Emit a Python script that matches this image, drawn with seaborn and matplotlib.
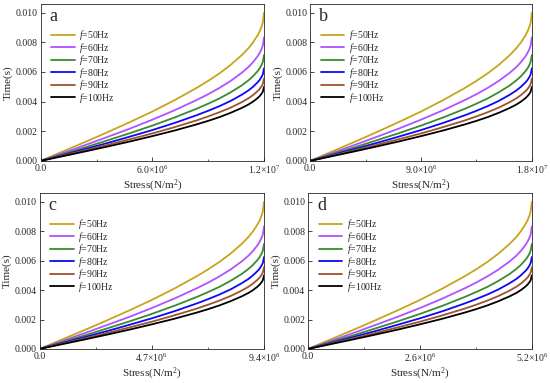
import pandas as pd
import matplotlib
matplotlib.use("Agg")
import matplotlib.pyplot as plt
import seaborn as sns
from matplotlib.ticker import AutoMinorLocator

sns.set_style("ticks")
plt.rcParams['font.family'] = ['Liberation Serif', 'DejaVu Serif']
plt.rcParams['mathtext.fontset'] = 'custom'
plt.rcParams['mathtext.rm'] = 'Liberation Serif'
plt.rcParams['mathtext.it'] = 'Liberation Serif:italic'

# stress as fraction of the panel's max stress
frac = [0, 0.1, 0.2, 0.3, 0.4, 0.5, 0.6, 0.7, 0.75, 0.8, 0.85, 0.9, 0.93, 0.95,
        0.97, 0.98, 0.99, 0.995, 1.0]

# time in ms
t50 = [0, 0.64, 1.28, 1.94, 2.62, 3.33, 4.10, 4.94, 5.40, 5.90, 6.47, 7.13, 7.60, 7.98, 8.44, 8.72, 9.10, 9.36, 10.0]
t60 = [0, 0.53, 1.07, 1.62, 2.18, 2.78, 3.42, 4.12, 4.50, 4.92, 5.39, 5.94, 6.33, 6.65, 7.03, 7.27, 7.58, 7.80, 8.33]
t70 = [0, 0.46, 0.91, 1.39, 1.87, 2.38, 2.93, 3.53, 3.86, 4.21, 4.62, 5.09, 5.43, 5.70, 6.03, 6.23, 6.50, 6.69, 7.14]
t80 = [0, 0.40, 0.80, 1.21, 1.64, 2.08, 2.56, 3.09, 3.38, 3.69, 4.04, 4.46, 4.75, 4.99, 5.28, 5.45, 5.69, 5.85, 6.25]
t90 = [0, 0.36, 0.71, 1.08, 1.46, 1.85, 2.28, 2.74, 3.00, 3.28, 3.59, 3.96, 4.22, 4.43, 4.69, 4.84, 5.06, 5.20, 5.56]
t100 = [0, 0.32, 0.64, 0.97, 1.31, 1.67, 2.05, 2.47, 2.70, 2.95, 3.24, 3.57, 3.80, 3.99, 4.22, 4.36, 4.55, 4.68, 5.00]

series = [t50, t60, t70, t80, t90, t100]
freqs = ["50", "60", "70", "80", "90", "100"]
colors = ["#C8A41C", "#B052FF", "#3A8A2E", "#0A0AF5", "#A0522D", "#000000"]

panels = ["a", "b", "c", "d"]
smax = [1.2e7, 1.8e7, 9.4e6, 5.2e6]
xlabels = [["0.0", r"6.0$\times$10$^6$", r"1.2$\times$10$^7$"],
           ["0.0", r"9.0$\times$10$^6$", r"1.8$\times$10$^7$"],
           ["0.0", r"4.7$\times$10$^6$", r"9.4$\times$10$^6$"],
           ["0.0", r"2.6$\times$10$^6$", r"5.2$\times$10$^6$"]]

boxes = [[0.074, 0.580, 0.406, 0.410],
         [0.564, 0.580, 0.403, 0.410],
         [0.072, 0.089, 0.408, 0.407],
         [0.560, 0.089, 0.407, 0.407]]

fig = plt.figure(figsize=(5.5, 3.83), dpi=100)

for i, p in enumerate(panels):
    ax = fig.add_axes(boxes[i])
    rows = []
    for f, t in zip(freqs, series):
        for x, y in zip(frac, t):
            rows.append({"stress": x * smax[i], "time": y / 1000, "f": f})
    df = pd.DataFrame(rows)
    sns.lineplot(data=df, x="stress", y="time", hue="f", palette=colors,
                 linewidth=1.3, ax=ax, estimator=None, sort=False)
    ax.set_xlim(0, smax[i])
    ax.set_ylim(0, 0.0106)
    ax.set_xticks([0, smax[i] / 2, smax[i]])
    ax.set_xticklabels(xlabels[i])
    ax.set_yticks([0, 0.002, 0.004, 0.006, 0.008, 0.010])
    ax.set_yticklabels(["0.000", "0.002", "0.004", "0.006", "0.008", "0.010"])
    ax.xaxis.set_minor_locator(AutoMinorLocator(2))
    ax.tick_params(direction="in", labelsize=7, length=3, width=0.6, pad=2)
    ax.tick_params(which="minor", direction="in", length=1.8, width=0.5)
    for s in ax.spines.values():
        s.set_linewidth(0.6)
    ax.set_xlabel(r"Stress(N/m$^2$)", fontsize=8, labelpad=1)
    ax.set_ylabel("Time(s)", fontsize=8, labelpad=2)
    ax.text(0.04, 0.92, p, transform=ax.transAxes, fontsize=13, va="center")
    h, l = ax.get_legend_handles_labels()
    ax.legend(h, [r"$f$=" + f + "Hz" for f in freqs], loc="upper left",
              bbox_to_anchor=(0.03, 0.87), frameon=False, fontsize=7,
              handlelength=2.4, handletextpad=0.5, labelspacing=-0.15,
              borderaxespad=0)

fig.savefig("out.png", dpi=100)
